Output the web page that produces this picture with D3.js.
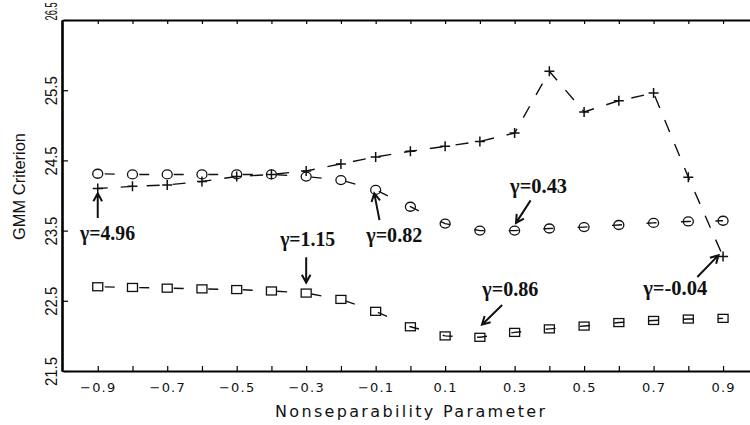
<!DOCTYPE html>
<html>
<head>
<meta charset="utf-8">
<script src="https://cdn.jsdelivr.net/npm/d3@7"></script>
<style>
  html, body { margin: 0; padding: 0; background: #fff; }
  svg { display: block; }
</style>
</head>
<body>
<svg id="chart"></svg>
<script>
// data
var rho = [-0.9, -0.8, -0.7, -0.6, -0.5, -0.4, -0.3, -0.2, -0.1, 0.0,
           0.1, 0.2, 0.3, 0.4, 0.5, 0.6, 0.7, 0.8, 0.9];

var plusSeries = [24.10, 24.13, 24.15, 24.20, 24.27, 24.30, 24.35, 24.45, 24.55, 24.63,
                  24.70, 24.77, 24.89, 25.77, 25.19, 25.35, 25.46, 24.26, 23.13];

var circleSeries = [24.31, 24.30, 24.30, 24.30, 24.30, 24.30, 24.27, 24.22, 24.08, 23.84,
                    23.60, 23.50, 23.50, 23.53, 23.55, 23.58, 23.61, 23.63, 23.64];

var squareSeries = [22.70, 22.69, 22.68, 22.67, 22.66, 22.64, 22.61, 22.52, 22.35, 22.13,
                    22.00, 21.98, 22.05, 22.10, 22.14, 22.19, 22.22, 22.24, 22.25];

var xTicks = [-0.9, -0.8, -0.7, -0.6, -0.5, -0.4, -0.3, -0.2, -0.1, 0.0,
              0.1, 0.2, 0.3, 0.4, 0.5, 0.6, 0.7, 0.8, 0.9];
var xTickLabels = ["\u22120.9", "\u22120.7", "\u22120.5", "\u22120.3", "\u22120.1",
                   "0.1", "0.3", "0.5", "0.7", "0.9"];
var yTicks = [21.5, 22.5, 23.5, 24.5, 25.5, 26.5];
var yTickLabels = ["21.5", "22.5", "23.5", "24.5", "25.5", "26.5"];

// annotations: label, text anchor point, arrow tail, arrow head (data units)
var noteLabels = ["\u03b3=4.96", "\u03b3=1.15", "\u03b3=0.82", "\u03b3=0.43", "\u03b3=0.86", "\u03b3=-0.04"];
var noteWidth  = [55, 55, 56, 57, 56, 64];
var noteText   = [[-0.951, 23.37], [-0.375, 23.28], [-0.127, 23.34], [0.287, 24.04], [0.207, 22.57], [0.670, 22.58]];
var noteTail   = [[-0.9, 23.68], [-0.3, 23.12], [-0.089, 23.65], [0.346, 23.93], [0.264, 22.44], [0.826, 22.84]];
var noteHead   = [[-0.9, 24.03], [-0.3, 22.76], [-0.104, 24.03], [0.304, 23.61], [0.206, 22.16], [0.887, 23.15]];

var size = { width: 750, height: 425 };

var serif = "'Liberation Serif', 'DejaVu Serif', serif";
var sans = "'Liberation Sans', Arial, sans-serif";
var wide = "'DejaVu Sans', sans-serif";

var x = d3.scaleLinear().domain([-1, 1]).range([63, 757.8]);
var y = d3.scaleLinear().domain([21.5, 26.5]).range([371, 20]);

var svg = d3.select("#chart")
  .attr("width", size.width)
  .attr("height", size.height);

svg.append("rect")
  .attr("width", size.width)
  .attr("height", size.height)
  .attr("fill", "#fff");

// axes
var xAxisBottom = d3.axisBottom(x)
  .tickValues(xTicks)
  .tickSizeInner(-5)
  .tickSizeOuter(0)
  .tickFormat(function(d, i){ return i % 2 === 0 ? xTickLabels[i / 2] : ""; });

var gx = svg.append("g")
  .attr("transform", "translate(0," + y(21.5) + ")")
  .call(xAxisBottom);
gx.select(".domain").attr("stroke-width", 2.2);
gx.selectAll(".tick line").attr("stroke-width", 1.2);
gx.selectAll("text")
  .attr("y", 21)
  .attr("dy", 0)
  .style("font-family", wide)
  .style("font-size", "13px")
  .attr("letter-spacing", 1.2)
  .attr("fill", "#111");

var xAxisTop = d3.axisTop(x)
  .tickValues(xTicks)
  .tickSizeInner(-4)
  .tickSizeOuter(0)
  .tickFormat("");

var gt = svg.append("g")
  .attr("transform", "translate(0," + y(26.5) + ")")
  .call(xAxisTop);
gt.select(".domain").attr("stroke-width", 2.2);
gt.selectAll(".tick line").attr("stroke-width", 1.2);

var yAxis = d3.axisLeft(y)
  .tickValues(yTicks)
  .tickSizeInner(-6)
  .tickSizeOuter(0)
  .tickFormat(function(d, i){ return yTickLabels[i]; });

var gy = svg.append("g")
  .attr("transform", "translate(62,0)")
  .call(yAxis);
gy.select(".domain").attr("stroke-width", 2.6);
gy.selectAll(".tick line").attr("stroke-width", 1.2);
// the top label has to squeeze under the page edge
gy.selectAll("text")
  .attr("transform", function(d){ return d === 26.5 ? "rotate(-90) scale(0.58,1)" : "rotate(-90)"; })
  .attr("x", 0)
  .attr("y", -5)
  .attr("dy", 0)
  .attr("text-anchor", function(d){ return d === 26.5 ? "start" : "middle"; })
  .style("font-family", sans)
  .style("font-size", "16px")
  .attr("textLength", function(d){ return d === 26.5 ? null : 29; })
  .attr("lengthAdjust", "spacingAndGlyphs")
  .attr("fill", "#111");

// axis titles
svg.append("text")
  .attr("x", 410)
  .attr("y", 416.5)
  .attr("text-anchor", "middle")
  .style("font-family", wide)
  .style("font-size", "16px")
  .attr("textLength", 270)
  .attr("lengthAdjust", "spacing")
  .attr("fill", "#111")
  .text("Nonseparability Parameter");

svg.append("text")
  .attr("transform", "translate(25,186.5) rotate(-90)")
  .attr("text-anchor", "middle")
  .style("font-family", sans)
  .style("font-size", "17px")
  .attr("textLength", 107)
  .attr("lengthAdjust", "spacingAndGlyphs")
  .attr("fill", "#111")
  .text("GMM Criterion");

// series
var line = d3.line()
  .x(function(d){ return x(d[0]); })
  .y(function(d){ return y(d[1]); });

function pairs(vals){
  return rho.map(function(r, i){ return [r, vals[i]]; });
}

svg.append("path")
  .datum(pairs(plusSeries))
  .attr("d", line)
  .attr("fill", "none")
  .attr("stroke", "#111")
  .attr("stroke-width", 1.4)
  .attr("stroke-dasharray", "13,13")
  .attr("stroke-dashoffset", 3);

svg.append("path")
  .datum(pairs(circleSeries))
  .attr("d", line)
  .attr("fill", "none")
  .attr("stroke", "#111")
  .attr("stroke-width", 1.4)
  .attr("stroke-dasharray", "10,24.5")
  .attr("stroke-dashoffset", 27.5);

svg.append("path")
  .datum(pairs(squareSeries))
  .attr("d", line)
  .attr("fill", "none")
  .attr("stroke", "#111")
  .attr("stroke-width", 1.4)
  .attr("stroke-dasharray", "10,24.5")
  .attr("stroke-dashoffset", 27.5);

// markers
svg.append("g").selectAll("path")
  .data(pairs(plusSeries))
  .enter()
  .append("path")
  .attr("d", function(d){
    var cx = x(d[0]), cy = y(d[1]);
    return "M" + (cx - 5) + "," + cy + "H" + (cx + 5) + "M" + cx + "," + (cy - 5) + "V" + (cy + 5);
  })
  .attr("stroke", "#111")
  .attr("stroke-width", 1.5)
  .attr("fill", "none");

svg.append("g").selectAll("ellipse")
  .data(pairs(circleSeries))
  .enter()
  .append("ellipse")
  .attr("cx", function(d){ return x(d[0]); })
  .attr("cy", function(d){ return y(d[1]); })
  .attr("rx", 5)
  .attr("ry", 4.5)
  .attr("stroke", "#111")
  .attr("stroke-width", 1.3)
  .attr("fill", "none");

svg.append("g").selectAll("rect")
  .data(pairs(squareSeries))
  .enter()
  .append("rect")
  .attr("x", function(d){ return x(d[0]) - 5; })
  .attr("y", function(d){ return y(d[1]) - 4; })
  .attr("width", 10)
  .attr("height", 8)
  .attr("stroke", "#111")
  .attr("stroke-width", 1.3)
  .attr("fill", "none");

// annotations
var notes = svg.append("g");
noteLabels.forEach(function(label, i){
  var x1 = x(noteTail[i][0]), y1 = y(noteTail[i][1]);
  var x2 = x(noteHead[i][0]), y2 = y(noteHead[i][1]);
  var a = Math.atan2(y2 - y1, x2 - x1);
  var len = 9, spread = 0.5;
  var ax1 = x2 - len * Math.cos(a - spread), ay1 = y2 - len * Math.sin(a - spread);
  var ax2 = x2 - len * Math.cos(a + spread), ay2 = y2 - len * Math.sin(a + spread);

  notes.append("path")
    .attr("d", "M" + x1 + "," + y1 + "L" + x2 + "," + y2 +
               "M" + ax1 + "," + ay1 + "L" + x2 + "," + y2 + "L" + ax2 + "," + ay2)
    .attr("stroke", "#111")
    .attr("stroke-width", 2)
    .attr("fill", "none");

  notes.append("text")
    .attr("x", x(noteText[i][0]))
    .attr("y", y(noteText[i][1]))
    .style("font-family", serif)
    .style("font-size", "20px")
    .style("font-weight", "bold")
    .attr("textLength", noteWidth[i])
    .attr("lengthAdjust", "spacingAndGlyphs")
    .attr("fill", "#111")
    .text(label);
});
</script>
</body>
</html>
